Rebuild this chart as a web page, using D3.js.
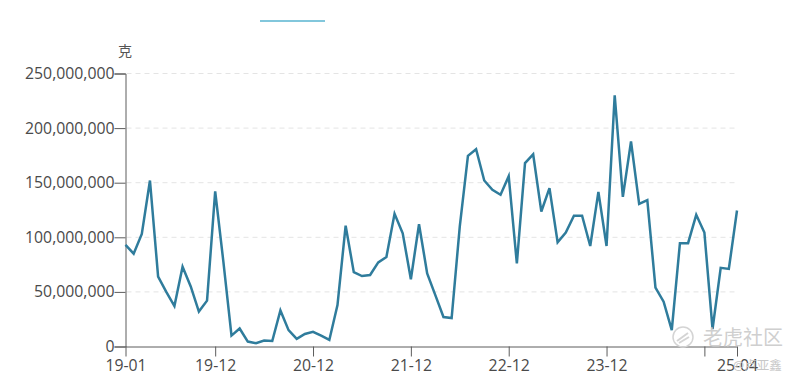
<!DOCTYPE html>
<html><head><meta charset="utf-8">
<style>html,body{margin:0;padding:0;background:#fff;overflow:hidden}svg{display:block}
text{font-family:"Open Sans","Noto Sans CJK SC",sans-serif}</style>
<script src="https://cdnjs.cloudflare.com/ajax/libs/d3/7.8.5/d3.min.js"></script>
</head><body><svg id="c" width="798" height="383"></svg>
<script>
const values=[93,85,103,152,64,50,37,73,55,32,42,142,78,10,16.5,4.5,3,5.5,5,33,15,7,11.5,13.4,10,6,38,110.7,68,64.5,65.5,77,82,121.5,103.7,61.6,112,67,47,27,26,110,174.6,180.7,152,143.5,139,156,76,168,176,123.6,145,95.5,104.4,119.7,119.7,92,141.6,92,230,137,187.7,130.6,134,54,41,15,94.6,94.6,120.6,104.4,16,72,71,124.5];
const xTickIndex=[0,11,23,35,47,59,71,75];
const xTickLabels=["19-01","19-12","20-12","21-12","22-12","23-12","","25-04"];
const yTicks=[0,50000000,100000000,150000000,200000000,250000000];
const unit="克";
const svg=d3.select("#c");
const x=d3.scaleLinear().domain([0,75]).range([125.5,737]);
const y=d3.scaleLinear().domain([0,250000000]).range([346.5,73.5]);
const ink="#5c5c5c";
svg.append("g").selectAll("line").data(yTicks.slice(1)).join("line")
 .attr("x1",x(0)+1).attr("x2",x(75)).attr("y1",d=>y(d)).attr("y2",d=>y(d))
 .attr("stroke","#e4e4e4").attr("stroke-dasharray","5,4");
const ya=d3.axisLeft(y).tickValues(yTicks).tickFormat(d3.format(",")).tickSize(11).tickPadding(0);
const gy=svg.append("g").attr("transform",`translate(${x(0)},0)`).call(ya);
gy.select(".domain").attr("stroke",ink);
gy.selectAll("line").attr("stroke",ink);
gy.selectAll("text").attr("font-size",15.8).attr("fill","#4a4a4a");
const xa=d3.axisBottom(x).tickValues(xTickIndex).tickFormat((d,i)=>xTickLabels[i]).tickSize(10).tickPadding(3).tickSizeOuter(0);
const gx=svg.append("g").attr("transform",`translate(0,${y(0)})`).call(xa);
gx.select(".domain").attr("stroke",ink);
gx.selectAll("line").attr("stroke",ink);
gx.selectAll("text").attr("font-size",15.8).attr("fill","#4a4a4a");
svg.append("text").attr("x",125).attr("y",56).attr("text-anchor","middle").attr("font-size",14).attr("fill","#555").text(unit);
svg.append("line").attr("x1",260).attr("x2",325).attr("y1",21).attr("y2",21).attr("stroke","#58b4d1").attr("stroke-width",1.5);
svg.append("path").datum(values).attr("fill","none").attr("stroke","#2f7c9c").attr("stroke-width",2.5).attr("stroke-linejoin","miter")
 .attr("d",d3.line().x((d,i)=>x(i)).y(d=>y(d*1e6)));
const wm=svg.append("g");
wm.append("circle").attr("cx",683).attr("cy",337).attr("r",10).attr("fill","none").attr("stroke","#d4d4d4").attr("stroke-width",1.5);
wm.append("path").attr("d","M677 341 L688 333 M679 343 L689 337").attr("stroke","#d4d4d4").attr("stroke-width",2).attr("fill","none");
wm.append("text").attr("x",703).attr("y",345).attr("font-size",20).attr("fill","#cfcfcf").text("老虎社区");
wm.append("text").attr("x",733).attr("y",370).attr("font-size",12.5).attr("fill","#c8c8c8").text("@卢亚鑫");
</script></body></html>
